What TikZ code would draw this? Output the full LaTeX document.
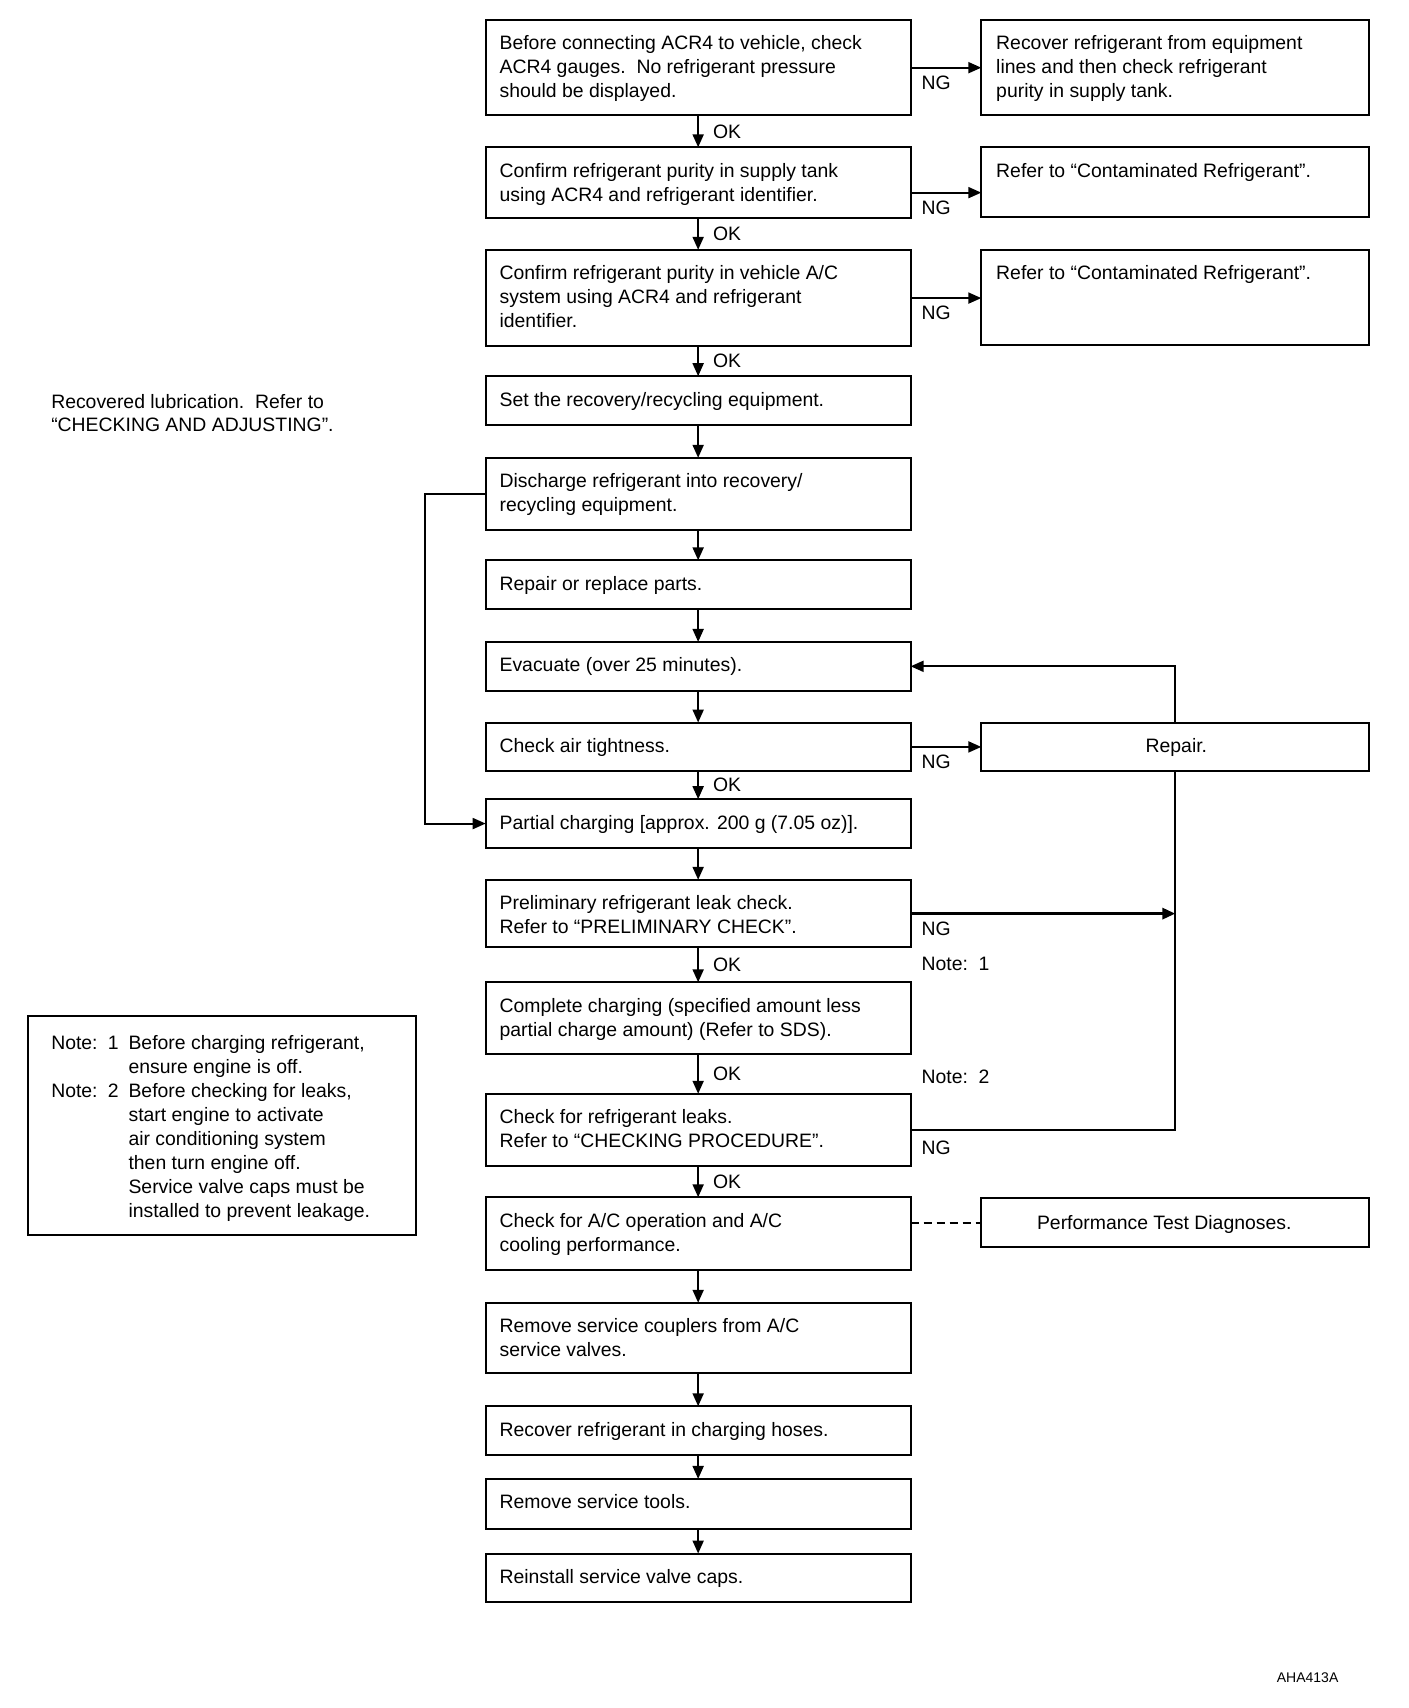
\documentclass[tikz,border=0pt]{standalone}
\usepackage{fontspec}
\setmainfont{Liberation Sans}
\usetikzlibrary{arrows.meta,calc}
\newcommand\ptext[1]{\parbox[t]{12cm}{\raggedright\fontsize{9.7pt}{11.94pt}\selectfont #1}}
\newcommand\flowbox[7]{%
  \node[box, anchor=north west, minimum width={(#4-#2)*0.4976pt}, minimum height={(#5-#3)*0.4976pt}] (#1) at (#2,#3) {};
  \node[txt] (#1t) at ($(#1.north west)+(#6,30)$) {\ptext{#7}};}
\begin{document}
\begin{tikzpicture}[x=0.4976pt,y=-0.4976pt,
  box/.style={draw, line width=1pt, inner sep=0pt, outer sep=0pt},
  txt/.style={anchor=base west, inner sep=0pt, outer sep=0pt},
  arr/.style={line width=1pt, -{Triangle[length=6.5pt,width=5.5pt]}},
  plain/.style={line width=1pt},
  lab/.style={inner sep=0pt, outer sep=0pt, font=\fontsize{9.7pt}{11.94pt}\selectfont},
  ok/.style={lab, anchor=west, xshift=7.5pt},
  ng/.style={lab, anchor=north west, xshift=5.5pt, yshift=-4pt},
]
\useasboundingbox (0,0) rectangle (1414.8,1716.2);

% main column
\flowbox{b1}{488}{20}{915}{116}{14}{Before connecting ACR4 to vehicle, check\\ACR4 gauges.\ \ No refrigerant pressure\\should be displayed.}
\flowbox{b2}{488}{148}{915}{219}{14}{Confirm refrigerant purity in supply tank\\using ACR4 and refrigerant identifier.}
\flowbox{b3}{488}{251}{915}{348}{14}{Confirm refrigerant purity in vehicle A/C\\system using ACR4 and refrigerant\\identifier.}
\flowbox{b4}{488}{378}{915}{427}{14}{Set the recovery/recycling equipment.}
\flowbox{b5}{488}{460}{915}{533}{14}{Discharge refrigerant into recovery/\\recycling equipment.}
\flowbox{b6}{488}{563}{915}{612}{14}{Repair or replace parts.}
\flowbox{b7}{488}{645}{915}{694}{14}{Evacuate (over 25 minutes).}
\flowbox{b8}{488}{726}{915}{775}{14}{Check air tightness.}
\flowbox{b9}{488}{803}{915}{852}{14}{Partial charging [approx. 200 g (7.05 oz)].}
\flowbox{b10}{488}{884}{915}{952}{14}{Preliminary refrigerant leak check.\\Refer to “PRELIMINARY CHECK”.}
\flowbox{b11}{488}{987}{915}{1059}{14}{Complete charging (specified amount less\\partial charge amount) (Refer to SDS).}
\flowbox{b12}{488}{1099}{915}{1172}{14}{Check for refrigerant leaks.\\Refer to “CHECKING PROCEDURE”.}
\flowbox{b13}{488}{1203}{915}{1276}{14}{Check for A/C operation and A/C\\cooling performance.}
\flowbox{b14}{488}{1309}{915}{1380}{14}{Remove service couplers from A/C\\service valves.}
\flowbox{b15}{488}{1413}{915}{1462}{14}{Recover refrigerant in charging hoses.}
\flowbox{b16}{488}{1486}{915}{1536}{14}{Remove service tools.}
\flowbox{b17}{488}{1561}{915}{1610}{14}{Reinstall service valve caps.}

% right column
\flowbox{r1}{986}{20}{1376}{116}{15}{Recover refrigerant from equipment\\lines and then check refrigerant\\purity in supply tank.}
\flowbox{r2}{986}{148}{1376}{218}{15}{Refer to “Contaminated Refrigerant”.}
\flowbox{r3}{986}{251}{1376}{347}{15}{Refer to “Contaminated Refrigerant”.}
\node[box, anchor=north west, minimum width={390*0.4976pt}, minimum height={49*0.4976pt}] (r4) at (986,726) {};
\node[txt] (r4t) at (1181,756) {\makebox[0pt]{\fontsize{9.7pt}{11.94pt}\selectfont Repair.}};
\node[box, anchor=north west, minimum width={390*0.4976pt}, minimum height={49*0.4976pt}] (r5) at (986,1204) {};
\node[txt] (r5t) at (1042,1235) {\ptext{Performance Test Diagnoses.}};

% left texts
\node[txt] (lub) at (51.5,410) {\ptext{Recovered lubrication.\ \ Refer to\\“CHECKING AND ADJUSTING”.}};
\node[box, anchor=north west, minimum width={390*0.4976pt}, minimum height={220*0.4976pt}] (note) at (28,1021) {};
\node[txt] (notet) at (51.5,1055) {\ptext{%
\makebox[28.3pt][l]{Note:}\makebox[10.35pt][l]{1}Before charging refrigerant,\\
\hspace*{38.65pt}ensure engine is off.\\
\makebox[28.3pt][l]{Note:}\makebox[10.35pt][l]{2}Before checking for leaks,\\
\hspace*{38.65pt}start engine to activate\\
\hspace*{38.65pt}air conditioning system\\
\hspace*{38.65pt}then turn engine off.\\
\hspace*{38.65pt}Service valve caps must be\\
\hspace*{38.65pt}installed to prevent leakage.}};

\node[lab, anchor=west] (n1) at (926,969) {Note:\ \ 1};
\node[lab, anchor=west] (n2) at (926,1082) {Note:\ \ 2};
\node[txt, font=\fontsize{7pt}{8pt}\selectfont] (code) at (1283,1691) {AHA413A};

% vertical connectors
\draw[arr] (b1.south) -- node[ok]{OK} (b2.north);
\draw[arr] (b2.south) -- node[ok]{OK} (b3.north);
\draw[arr] (b3.south) -- node[ok]{OK} (b4.north);
\draw[arr] (b4.south) -- (b5.north);
\draw[arr] (b5.south) -- (b6.north);
\draw[arr] (b6.south) -- (b7.north);
\draw[arr] (b7.south) -- (b8.north);
\draw[arr] (b8.south) -- node[ok]{OK} (b9.north);
\draw[arr] (b9.south) -- (b10.north);
\draw[arr] (b10.south) -- node[ok]{OK} (b11.north);
\draw[arr] (b11.south) -- node[ok]{OK} (b12.north);
\draw[arr] (b12.south) -- node[ok]{OK} (b13.north);
\draw[arr] (b13.south) -- (b14.north);
\draw[arr] (b14.south) -- (b15.north);
\draw[arr] (b15.south) -- (b16.north);
\draw[arr] (b16.south) -- (b17.north);

% NG branches
\draw[arr] (b1.east) -- node[ng, pos=0]{NG} (r1.west);
\draw[arr] ([yshift=-5pt]b2.east) -- node[ng, pos=0]{NG} ([yshift=-5pt]b2.east -| r2.west);
\draw[arr] (b3.east) -- node[ng, pos=0]{NG} (b3.east -| r3.west);
\draw[arr] (b8.east) -- node[ng, pos=0]{NG} (r4.west);
\draw[arr] (r4.north) |- (b7.east);
\draw[arr, line width=1.5pt] (b10.east) -- node[ng, pos=0]{NG} (b10.east -| r4.south);
\draw[plain] (r4.south) |- (b12.east) node[ng, anchor=north west, yshift=-1.5pt]{NG};

% left loop
\draw[arr] (b5.west) -- ++(-61,0) |- (b9.west);

% dashed link
\draw[line width=1pt, dash pattern=on 4pt off 2.5pt] (b13.east |- r5.west) -- (r5.west);
\end{tikzpicture}
\end{document}
